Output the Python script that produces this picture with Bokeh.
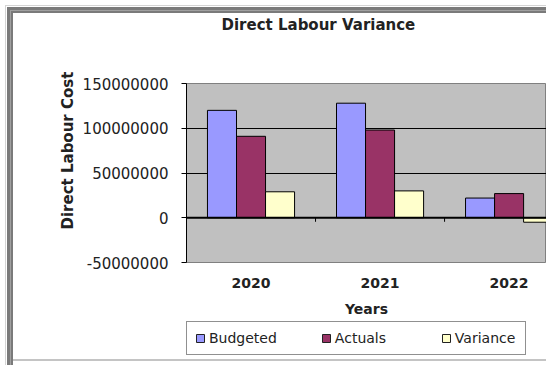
from bokeh.plotting import figure
from bokeh.layouts import column
from bokeh.models import (ColumnDataSource, FixedTicker, Range1d, Legend, LegendItem,
                          Title, Span, Label, NumeralTickFormatter)
from bokeh.transform import dodge
from bokeh.embed import file_html
from bokeh.resources import INLINE

years = ["2020", "2021", "2022"]
budgeted = [120e6, 128e6, 22e6]
actuals = [91e6, 98e6, 27e6]
variance = [29e6, 30e6, -5e6]
y_ticks = [-50e6, 0, 50e6, 100e6, 150e6]
series = ["Budgeted", "Actuals", "Variance"]
colors = ["#9999FF", "#993366", "#FFFFCC"]

xs = [i + 0.5 for i in range(len(years))]
bounds = [float(i) for i in range(1, len(years))]
src = ColumnDataSource(dict(x=xs, budgeted=budgeted, actuals=actuals, variance=variance))

FONT = "DejaVu Sans"
TXT = "#222222"


def strip(height):
    f = figure(width=546, height=height, output_backend="svg", toolbar_location=None,
               x_axis_type=None, y_axis_type=None,
               x_range=Range1d(0, 1), y_range=Range1d(0, 1),
               min_border=0, min_border_left=0, min_border_right=0,
               min_border_top=0, min_border_bottom=0)
    f.title = None
    f.grid.visible = False
    f.background_fill_color = None
    f.border_fill_color = None
    f.outline_line_color = None
    return f


# ---------------- title strip ----------------
pt = strip(40)
pt.add_layout(Label(x=35, y=16, x_units="screen", y_units="screen", text="Direct Labour Variance",
                    text_align="left", text_baseline="middle", text_font=FONT,
                    text_font_style="bold", text_font_size="15px", text_color=TXT))

# ---------------- main chart ----------------
p = figure(width=546, height=280, output_backend="svg", toolbar_location=None,
           x_range=Range1d(0, 2.79), y_range=Range1d(-50e6, 150e6),
           min_border_left=186, min_border_right=0, min_border_top=43, min_border_bottom=58)
p.title = None
p.background_fill_color = "#C0C0C0"
p.border_fill_color = None
p.outline_line_color = "#808080"
p.outline_line_width = 1

bw = 0.225
for col, off, c in zip(["budgeted", "actuals", "variance"], [-bw, 0, bw], colors):
    p.vbar(x=dodge("x", off, range=p.x_range), top=col, bottom=0, width=bw, source=src,
           fill_color=c, line_color="black", line_width=1)

# zero line (category axis crossing) with tick marks between categories
p.add_layout(Span(location=0, dimension="width", line_color="black", line_width=2))
p.segment(x0=bounds, y0=[0] * len(bounds), x1=bounds, y1=[-4.5e6] * len(bounds),
          line_color="black", line_width=1)

# y axis
ya = p.yaxis[0]
ya.ticker = FixedTicker(ticks=y_ticks)
ya.formatter = NumeralTickFormatter(format="0")
ya.axis_line_color = "black"
ya.major_tick_out = 5
ya.major_tick_in = 0
ya.minor_tick_line_color = None
ya.major_label_standoff = 13
ya.major_label_text_font = FONT
ya.major_label_text_font_size = "15px"
ya.major_label_text_color = TXT

p.ygrid.ticker = FixedTicker(ticks=[50e6, 100e6])
p.ygrid.grid_line_color = "black"
p.ygrid.grid_line_width = 1
p.xgrid.grid_line_color = None

# x axis (category labels)
xa = p.xaxis[0]
xa.ticker = FixedTicker(ticks=xs)
xa.major_label_overrides = {x: y for x, y in zip(xs, years)}
xa.axis_line_color = None
xa.major_tick_line_color = None
xa.minor_tick_line_color = None
xa.major_label_standoff = 9
xa.major_label_text_font = FONT
xa.major_label_text_font_style = "bold"
xa.major_label_text_font_size = "14px"
xa.major_label_text_color = TXT
xa.axis_label = "Years"
xa.axis_label_standoff = 10
xa.axis_label_text_font = FONT
xa.axis_label_text_font_style = "bold"
xa.axis_label_text_font_size = "14px"
xa.axis_label_text_color = TXT

# y axis title
p.add_layout(Title(text="Direct Labour Cost", align="left", offset=33, standoff=6,
                   text_font=FONT, text_font_style="bold", text_font_size="15px",
                   text_color=TXT), "left")

# ---------------- legend strip ----------------
p2 = strip(45)
# legend key swatches (tiny helper glyphs, covered by the opaque legend box)
key_renderers = [p2.vbar(x=[0.5], bottom=[0.49], top=[0.51], width=0.001,
                         fill_color=c, line_color="#222222") for c in colors]
legend = Legend(items=[LegendItem(label=s, renderers=[r]) for s, r in zip(series, key_renderers)],
                location=(0, 10), orientation="horizontal",
                background_fill_color="white", background_fill_alpha=1,
                border_line_color=TXT, border_line_width=1,
                padding=8, margin=0, spacing=44, glyph_width=10, glyph_height=10,
                label_standoff=4, label_width=62, label_height=14,
                label_text_font=FONT, label_text_font_size="14px", label_text_color=TXT)
p2.add_layout(legend, "center")

layout = column(pt, p, p2, spacing=0, styles={
    "background": ("linear-gradient(#d4d4d4,#d4d4d4) 5px 5px / 1px 360px no-repeat,"
                   "linear-gradient(#d4d4d4,#d4d4d4) 5px 5px / 541px 1px no-repeat,"
                   "linear-gradient(#a0a0a0,#a0a0a0) 10px 10px / 1px 355px no-repeat,"
                   "linear-gradient(#a0a0a0,#a0a0a0) 10px 10px / 536px 1px no-repeat,"
                   "linear-gradient(#7a7a7a,#7a7a7a) 7px 7px / 6px 358px no-repeat,"
                   "linear-gradient(#7a7a7a,#7a7a7a) 7px 7px / 539px 6px no-repeat,"
                   "linear-gradient(#c4c4c4,#c4c4c4) 13px 359px / 533px 2px no-repeat,"
                   "white")
})

open("out.html", "w").write(file_html(layout, INLINE))
